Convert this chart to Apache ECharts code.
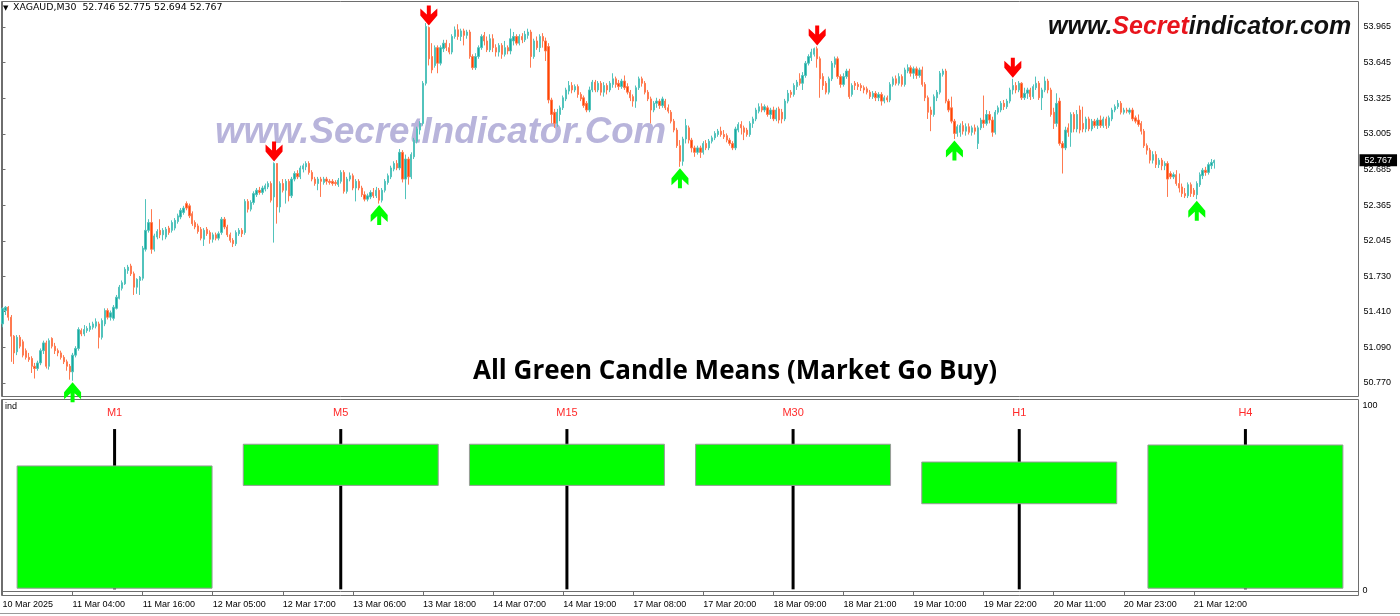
<!DOCTYPE html>
<html>
<head>
<meta charset="utf-8">
<script src="https://cdn.jsdelivr.net/npm/echarts@6/dist/echarts.min.js"></script>
<style>
html,body{margin:0;padding:0;background:#fff;}
#chart{width:1400px;height:616px;}
</style>
</head>
<body>
<div id="chart"></div>
<script>
// ---- data: XAGAUD M30 candles [open, close, low, high], bar index = position ----
const candles = [
[51.30,51.44,51.27,51.45],[51.42,51.45,51.38,51.46],[51.45,51.36,51.33,51.46],[51.36,51.19,50.96,51.38],[51.19,51.04,50.94,51.20],
[51.05,51.18,51.02,51.20],[51.18,51.10,51.08,51.20],[51.14,51.02,51.00,51.16],[51.06,51.00,50.98,51.08],[51.00,50.98,50.96,51.04],
[50.99,50.92,50.86,51.01],[50.92,50.90,50.81,50.95],[50.90,50.95,50.88,50.97],[50.95,51.06,50.93,51.08],[51.06,51.13,51.03,51.15],
[51.13,50.92,50.90,51.15],[50.92,51.15,50.89,51.17],[51.17,51.10,51.08,51.18],[51.10,51.06,51.03,51.13],[51.06,51.04,51.01,51.08],
[51.04,51.00,50.98,51.06],[51.00,50.96,50.94,51.02],[50.96,50.92,50.88,50.98],[50.92,50.87,50.80,50.94],[50.87,51.02,50.79,51.04],
[51.02,51.08,51.00,51.10],[51.08,51.25,51.06,51.27],[51.24,51.21,51.19,51.26],[51.21,51.25,51.19,51.29],[51.24,51.26,51.22,51.28],
[51.25,51.28,51.23,51.31],[51.27,51.30,51.25,51.32],[51.28,51.32,51.26,51.35],[51.30,51.18,51.08,51.32],[51.18,51.33,51.16,51.35],
[51.30,51.42,51.28,51.44],[51.42,51.36,51.34,51.44],[51.36,51.40,51.33,51.42],[51.35,51.45,51.33,51.47],[51.44,51.54,51.43,51.56],
[51.53,51.63,51.52,51.65],[51.62,51.67,51.60,51.69],[51.66,51.79,51.65,51.81],[51.78,51.81,51.75,51.83],[51.82,51.75,51.73,51.84],
[51.75,51.63,51.56,51.77],[51.63,51.70,51.57,51.71],[51.69,51.72,51.56,51.73],[51.71,51.98,51.69,52.00],[51.97,52.14,51.95,52.42],
[52.14,52.21,52.12,52.24],[52.21,51.97,51.93,52.33],[51.97,52.09,51.95,52.11],[52.08,52.13,52.06,52.15],[52.14,52.10,52.07,52.24],
[52.10,52.14,52.05,52.16],[52.08,52.15,52.06,52.17],[52.16,52.12,52.10,52.18],[52.14,52.21,52.12,52.23],[52.16,52.23,52.14,52.25],
[52.22,52.27,52.20,52.29],[52.26,52.32,52.24,52.34],[52.30,52.34,52.28,52.36],[52.38,52.34,52.32,52.40],[52.36,52.27,52.25,52.38],
[52.29,52.20,52.18,52.31],[52.21,52.17,52.15,52.23],[52.18,52.13,52.11,52.20],[52.15,52.07,52.05,52.17],[52.06,52.14,52.00,52.16],
[52.15,52.11,52.09,52.17],[52.12,52.06,52.02,52.14],[52.06,52.10,52.03,52.12],[52.10,52.07,52.05,52.12],[52.07,52.11,52.05,52.13],
[52.12,52.24,52.10,52.26],[52.24,52.17,52.15,52.26],[52.17,52.10,52.08,52.19],[52.10,52.05,52.03,52.12],[52.05,52.02,51.99,52.07],
[52.02,52.12,52.00,52.14],[52.11,52.14,52.09,52.16],[52.14,52.11,52.08,52.16],[52.12,52.40,52.10,52.42],[52.40,52.33,52.30,52.42],
[52.33,52.39,52.31,52.41],[52.39,52.47,52.37,52.49],[52.46,52.50,52.44,52.52],[52.50,52.48,52.46,52.53],[52.48,52.52,52.46,52.54],
[52.51,52.54,52.49,52.56],[52.53,52.56,52.51,52.58],[52.56,52.41,52.39,52.58],[52.44,52.74,52.03,52.75],[52.74,52.35,52.20,52.74],
[52.35,52.56,52.30,52.58],[52.56,52.50,52.48,52.60],[52.50,52.58,52.38,52.60],[52.58,52.45,52.40,52.60],[52.45,52.60,52.43,52.62],
[52.60,52.65,52.58,52.67],[52.65,52.62,52.60,52.68],[52.62,52.70,52.60,52.72],[52.69,52.72,52.66,52.74],[52.71,52.74,52.68,52.76],
[52.74,52.66,52.64,52.76],[52.66,52.60,52.58,52.68],[52.60,52.56,52.54,52.62],[52.56,52.60,52.50,52.62],[52.60,52.58,52.44,52.62],
[52.57,52.60,52.55,52.62],[52.60,52.58,52.55,52.62],[52.58,52.57,52.55,52.60],[52.58,52.56,52.54,52.60],[52.57,52.56,52.54,52.59],
[52.55,52.59,52.53,52.61],[52.58,52.66,52.56,52.68],[52.66,52.49,52.47,52.68],[52.49,52.60,52.47,52.62],[52.60,52.63,52.58,52.66],
[52.63,52.52,52.50,52.65],[52.52,52.58,52.40,52.60],[52.58,52.52,52.50,52.60],[52.52,52.46,52.44,52.54],[52.46,52.42,52.40,52.49],
[52.42,52.45,52.40,52.47],[52.44,52.48,52.42,52.50],[52.48,52.45,52.43,52.52],[52.45,52.50,52.43,52.53],[52.50,52.41,52.38,52.52],
[52.41,52.50,52.39,52.52],[52.50,52.58,52.48,52.60],[52.57,52.63,52.55,52.65],[52.62,52.70,52.60,52.72],[52.69,52.74,52.67,52.76],
[52.74,52.70,52.68,52.77],[52.70,52.84,52.68,52.87],[52.84,52.60,52.57,52.86],[52.60,52.78,52.42,52.82],[52.78,52.62,52.55,52.80],
[52.62,52.82,52.60,52.84],[52.80,52.95,52.78,52.97],[52.94,53.05,52.92,53.07],[53.04,53.10,53.00,53.12],[53.10,53.46,53.08,53.48],
[53.46,53.97,53.44,54.00],[53.96,53.68,53.62,53.97],[53.70,53.58,53.55,53.82],[53.62,53.78,53.60,53.80],[53.78,53.64,53.55,53.80],
[53.64,53.78,53.62,53.80],[53.77,53.82,53.74,53.85],[53.82,53.78,53.75,53.85],[53.78,53.74,53.72,53.82],[53.74,53.88,53.72,53.90],
[53.88,53.94,53.86,53.97],[53.94,53.88,53.85,53.99],[53.88,53.93,53.84,53.95],[53.93,53.89,53.80,53.95],[53.89,53.92,53.86,53.94],
[53.92,53.70,53.68,53.94],[53.70,53.60,53.58,53.72],[53.60,53.70,53.58,53.73],[53.70,53.78,53.68,53.80],[53.78,53.88,53.76,53.90],
[53.89,53.84,53.80,53.92],[53.84,53.76,53.74,53.88],[53.76,53.86,53.74,53.90],[53.86,53.78,53.74,53.90],[53.78,53.74,53.70,53.81],
[53.74,53.80,53.70,53.82],[53.80,53.72,53.68,53.82],[53.72,53.78,53.70,53.84],[53.78,53.75,53.72,53.80],[53.75,53.86,53.72,53.95],
[53.84,53.88,53.80,53.92],[53.88,53.82,53.80,53.90],[53.82,53.88,53.80,53.90],[53.88,53.85,53.82,53.91],[53.85,53.90,53.83,53.93],
[53.89,53.92,53.86,53.95],[53.92,53.70,53.60,53.94],[53.70,53.84,53.68,53.86],[53.84,53.78,53.76,53.88],[53.78,53.88,53.74,53.90],
[53.88,53.84,53.78,53.91],[53.84,53.75,53.66,53.87],[53.79,53.31,53.28,53.82],[53.31,53.18,53.10,53.33],[53.20,53.10,53.06,53.23],
[53.10,53.20,53.07,53.23],[53.18,53.24,53.12,53.26],[53.24,53.33,53.22,53.35],[53.32,53.40,53.30,53.42],[53.39,53.44,53.36,53.48],
[53.44,53.40,53.37,53.47],[53.40,53.43,53.38,53.45],[53.43,53.36,53.33,53.45],[53.36,53.32,53.30,53.38],[53.33,53.26,53.24,53.35],
[53.28,53.22,53.20,53.30],[53.22,53.40,53.20,53.43],[53.40,53.47,53.38,53.49],[53.47,53.40,53.38,53.49],[53.40,53.46,53.38,53.48],
[53.46,53.38,53.35,53.48],[53.38,53.44,53.34,53.47],[53.44,53.40,53.36,53.46],[53.40,53.46,53.38,53.48],[53.45,53.50,53.42,53.55],
[53.50,53.45,53.42,53.52],[53.46,53.43,53.40,53.49],[53.43,53.48,53.41,53.50],[53.48,53.42,53.40,53.53],[53.43,53.38,53.36,53.46],
[53.38,53.33,53.30,53.40],[53.34,53.30,53.25,53.36],[53.30,53.42,53.24,53.44],[53.42,53.50,53.40,53.52],[53.50,53.46,53.43,53.52],
[53.46,53.38,53.36,53.48],[53.38,53.32,53.30,53.40],[53.32,53.22,53.10,53.34],[53.22,53.28,53.20,53.30],[53.28,53.30,53.24,53.33],
[53.30,53.26,53.23,53.32],[53.26,53.32,53.24,53.34],[53.30,53.24,53.22,53.32],[53.24,53.21,53.19,53.27],[53.20,53.12,53.10,53.22],
[53.12,53.04,53.02,53.14],[53.04,52.90,52.88,53.06],[52.90,52.76,52.71,52.95],[52.76,52.96,52.72,52.98],[52.96,53.08,52.92,53.14],
[53.06,52.95,52.92,53.08],[52.95,52.88,52.84,52.97],[52.88,52.84,52.80,52.90],[52.84,52.88,52.82,52.90],[52.88,52.84,52.79,52.90],
[52.84,52.92,52.82,52.94],[52.92,52.88,52.86,52.95],[52.88,52.94,52.86,52.96],[52.94,52.97,52.92,52.99],[52.97,53.01,52.95,53.03],
[53.00,53.03,52.98,53.05],[53.03,53.00,52.98,53.07],[53.00,52.98,52.96,53.04],[52.99,52.95,52.93,53.01],[52.95,52.92,52.90,52.97],
[52.92,52.88,52.86,52.94],[52.88,53.05,52.86,53.07],[53.04,53.09,53.02,53.11],[53.09,53.06,53.00,53.12],[53.06,53.02,52.95,53.08],
[53.04,53.00,52.98,53.06],[53.00,53.10,52.98,53.12],[53.10,53.14,53.06,53.16],[53.14,53.22,53.12,53.24],[53.21,53.25,53.19,53.28],
[53.25,53.22,53.20,53.28],[53.22,53.25,53.20,53.27],[53.24,53.18,53.16,53.26],[53.18,53.22,53.14,53.24],[53.22,53.14,53.12,53.25],
[53.14,53.22,53.12,53.24],[53.23,53.13,53.10,53.25],[53.20,53.14,53.10,53.23],[53.14,53.30,53.12,53.32],[53.30,53.37,53.28,53.40],
[53.38,53.36,53.33,53.40],[53.36,53.44,53.34,53.46],[53.43,53.47,53.40,53.49],[53.50,53.46,53.44,53.55],[53.46,53.53,53.40,53.56],
[53.53,53.64,53.51,53.66],[53.64,53.70,53.62,53.72],[53.69,53.74,53.66,53.77],[53.72,53.77,53.70,53.78],[53.77,53.68,53.60,53.79],
[53.68,53.50,53.33,53.70],[53.52,53.44,53.40,53.55],[53.46,53.38,53.36,53.48],[53.38,53.50,53.36,53.52],[53.50,53.64,53.48,53.66],
[53.63,53.68,53.60,53.70],[53.68,53.52,53.50,53.70],[53.52,53.45,53.42,53.54],[53.45,53.52,53.43,53.55],[53.52,53.57,53.50,53.59],
[53.57,53.34,53.32,53.59],[53.36,53.44,53.34,53.46],[53.46,53.44,53.40,53.48],[53.45,53.43,53.40,53.47],[53.44,53.42,53.39,53.46],
[53.42,53.40,53.37,53.44],[53.41,53.38,53.36,53.43],[53.38,53.34,53.32,53.40],[53.34,53.37,53.32,53.39],[53.37,53.33,53.30,53.39],
[53.33,53.36,53.30,53.38],[53.36,53.30,53.26,53.38],[53.30,53.33,53.28,53.35],[53.33,53.31,53.29,53.35],[53.31,53.45,53.29,53.47],
[53.45,53.50,53.43,53.52],[53.50,53.46,53.44,53.53],[53.46,53.52,53.44,53.55],[53.52,53.45,53.43,53.54],[53.45,53.58,53.43,53.60],
[53.57,53.60,53.55,53.63],[53.60,53.55,53.52,53.62],[53.55,53.59,53.50,53.61],[53.59,53.53,53.50,53.61],[53.53,53.58,53.51,53.60],
[53.58,53.45,53.43,53.61],[53.45,53.33,53.30,53.47],[53.33,53.20,53.14,53.35],[53.22,53.18,53.03,53.25],[53.18,53.34,53.16,53.36],
[53.33,53.38,53.30,53.40],[53.38,53.55,53.36,53.57],[53.54,53.57,53.52,53.59],[53.57,53.30,53.28,53.59],[53.30,53.22,53.20,53.32],
[53.24,53.12,53.10,53.34],[53.12,53.01,52.96,53.14],[53.01,53.07,52.98,53.09],[53.02,53.08,52.98,53.10],[53.08,53.03,53.00,53.12],
[53.03,53.07,52.99,53.10],[53.07,53.02,53.00,53.10],[53.02,53.06,52.99,53.08],[53.06,53.03,53.00,53.09],[52.92,53.06,52.87,53.08],
[53.06,53.13,53.04,53.15],[53.13,53.10,53.06,53.35],[53.10,53.18,53.08,53.22],[53.18,53.13,53.10,53.21],[53.13,53.02,52.98,53.16],
[53.02,53.20,53.00,53.22],[53.20,53.24,53.18,53.26],[53.22,53.28,53.20,53.30],[53.28,53.25,53.22,53.31],[53.25,53.30,53.23,53.32],
[53.30,53.40,53.28,53.42],[53.40,53.44,53.36,53.50],[53.44,53.40,53.37,53.47],[53.40,53.46,53.38,53.48],[53.46,53.33,53.31,53.47],
[53.33,53.37,53.31,53.42],[53.37,53.40,53.32,53.42],[53.40,53.34,53.31,53.42],[53.34,53.43,53.32,53.45],[53.42,53.46,53.40,53.52],
[53.46,53.33,53.31,53.48],[53.33,53.40,53.22,53.42],[53.40,53.48,53.38,53.52],[53.48,53.40,53.37,53.50],[53.40,53.18,53.16,53.42],
[53.20,53.10,53.05,53.24],[53.10,53.28,53.07,53.37],[53.30,52.92,52.90,53.33],[52.92,52.88,52.65,52.94],[52.88,53.04,52.86,53.07],
[53.06,53.02,52.98,53.10],[53.02,53.18,52.89,53.20],[53.18,53.05,53.02,53.20],[53.05,53.18,53.02,53.22],[53.22,53.04,53.01,53.26],
[53.10,53.05,53.02,53.25],[53.05,53.14,53.02,53.16],[53.14,53.05,53.03,53.16],[53.05,53.12,53.03,53.14],[53.12,53.08,53.06,53.14],
[53.08,53.13,53.05,53.15],[53.13,53.08,53.06,53.17],[53.08,53.14,53.06,53.16],[53.14,53.08,53.05,53.16],[53.08,53.15,53.06,53.17],
[53.14,53.22,53.12,53.24],[53.22,53.25,53.20,53.27],[53.25,53.28,53.23,53.31],[53.28,53.20,53.18,53.30],[53.20,53.22,53.18,53.24],
[53.22,53.21,53.19,53.24],[53.20,53.22,53.18,53.24],[53.22,53.14,53.12,53.24],[53.15,53.12,53.10,53.17],[53.13,53.09,53.07,53.18],
[53.10,53.03,53.00,53.12],[53.03,52.90,52.88,53.05],[52.90,52.86,52.82,52.92],[52.86,52.77,52.74,52.88],[52.77,52.82,52.74,52.85],
[52.82,52.73,52.70,52.85],[52.73,52.77,52.70,52.79],[52.77,52.72,52.68,52.79],[52.72,52.74,52.68,52.76],[52.74,52.60,52.44,52.76],
[52.65,52.62,52.60,52.67],[52.62,52.64,52.60,52.66],[52.64,52.56,52.54,52.68],[52.56,52.52,52.48,52.65],[52.53,52.47,52.44,52.56],
[52.47,52.45,52.43,52.52],[52.45,52.55,52.43,52.57],[52.55,52.47,52.44,52.57],[52.50,52.46,52.44,52.52],[52.46,52.56,52.42,52.58],
[52.55,52.64,52.53,52.66],[52.63,52.68,52.60,52.70],[52.68,52.66,52.63,52.71],[52.66,52.73,52.64,52.75],[52.72,52.75,52.69,52.78],
[52.746,52.767,52.694,52.775]
];
const priceTicks = [53.965, 53.645, 53.325, 53.005, 52.685, 52.365, 52.045, 51.730, 51.410, 51.090, 50.770];
const tickBars   = [0, 24, 48, 72, 96, 120, 144, 168, 192, 216, 240, 264, 288, 312, 336, 360, 384, 408];
const tickLabels = ['10 Mar 2025','11 Mar 04:00','11 Mar 16:00','12 Mar 05:00','12 Mar 17:00','13 Mar 06:00',
  '13 Mar 18:00','14 Mar 07:00','14 Mar 19:00','17 Mar 08:00','17 Mar 20:00','18 Mar 09:00',
  '18 Mar 21:00','19 Mar 10:00','19 Mar 22:00','20 Mar 11:00','20 Mar 23:00','21 Mar 12:00'];
const buySignals  = [24, 129, 232, 326, 409];
const sellSignals = [93, 146, 279, 346];
const tfNames   = ['M1','M5','M15','M30','H1','H4'];
// indicator candles per timeframe [open, close, low, high] on 0..100 scale
const tfCandles = [[1.5,67.5,0.9,87.4],[57.0,79.2,0.9,87.4],[57.0,79.2,0.9,87.4],[57.0,79.2,0.9,87.4],[47.1,69.6,0.9,87.4],[1.5,78.8,0.9,87.4]];
const indLevels = [0, 100];
const symbolName = 'XAGAUD,M30';

// ---- build ----
const last = candles[candles.length - 1];
const f3 = v => v.toFixed(3);
const candleData = candles.map((c, i) => [i, c[0], c[1], c[2], c[3]]);
const upData = buySignals.map(i => [i, candles[i][2]]);
const downData = sellSignals.map(i => [i, candles[i][3]]);
const upArrow = 'path://M6.5,20 L10.5,20 L10.5,11 L17,17 L17,10 L8.5,0 L0,10 L0,17 L6.5,11 Z';
const downArrow = 'path://M6.5,0 L10.5,0 L10.5,9 L17,3 L17,10 L8.5,20 L0,10 L0,3 L6.5,9 Z';
const FONT = '"Liberation Sans", Arial, sans-serif';
const axisCol = '#6e6e6e';

const chart = echarts.init(document.getElementById('chart'), null, {renderer: 'canvas'});
chart.setOption({
  animation: false,
  backgroundColor: '#ffffff',
  grid: [
    {left: 1.5, right: 41.5, top: 1.5, height: 395, show: true, borderColor: axisCol, borderWidth: 1, outerBoundsMode: 'none'},
    {left: 1.5, right: 41.5, top: 399.5, height: 196, show: true, borderColor: axisCol, borderWidth: 1, outerBoundsMode: 'none'}
  ],
  xAxis: [
    {type: 'value', gridIndex: 0, min: -0.342, max: 464.38, show: false},
    {type: 'value', gridIndex: 1, min: -0.342, max: 464.38,
      axisLine: {show: true, lineStyle: {color: axisCol}},
      axisTick: {show: true, length: 4, customValues: tickBars, lineStyle: {color: axisCol}},
      axisLabel: {customValues: tickBars, formatter: v => tickLabels[tickBars.indexOf(v)] || '',
        align: 'left', margin: 5, color: '#000', fontSize: 9, fontFamily: FONT},
      splitLine: {show: false}},
    {type: 'category', gridIndex: 1, data: tfNames, position: 'top',
      axisLine: {show: false}, axisTick: {show: false},
      axisLabel: {inside: true, margin: 8, color: '#ff2b2b', fontSize: 11, fontFamily: FONT},
      splitLine: {show: false}}
  ],
  yAxis: [
    {type: 'value', gridIndex: 0, position: 'right', min: 50.6487, max: 54.194,
      axisLine: {show: true, lineStyle: {color: axisCol}},
      axisTick: {show: true, length: 3, customValues: priceTicks, lineStyle: {color: axisCol}},
      axisLabel: {customValues: priceTicks, formatter: v => f3(v), margin: 5, color: '#000', fontSize: 9, fontFamily: FONT},
      splitLine: {show: false}},
    {type: 'value', gridIndex: 1, position: 'right', min: -2.43, max: 103.35,
      axisLine: {show: true, lineStyle: {color: axisCol}},
      axisTick: {show: false},
      axisLabel: {customValues: indLevels, formatter: v => String(v), margin: 4, color: '#000', fontSize: 9, fontFamily: FONT},
      splitLine: {show: false}}
  ],
  series: [
    {
      type: 'candlestick', xAxisIndex: 0, yAxisIndex: 0, data: candleData,
      encode: {x: 0, y: [1, 2, 3, 4]},
      barWidth: 1.8,
      itemStyle: {color: '#17a9a0', color0: '#ff4500', borderColor: '#52c3bc', borderColor0: '#ff7a50', borderWidth: 1},
      markLine: {
        silent: true, symbol: ['none', 'none'], animation: false,
        lineStyle: {color: 'rgba(0,0,0,0)', width: 1, type: 'solid'},
        data: [{yAxis: last[1]}],
        label: {show: true, position: 'end', formatter: () => f3(last[1]), distance: 1,
          color: '#ffffff', backgroundColor: '#000000', padding: [2, 5, 1, 5], fontSize: 9, fontFamily: FONT}
      }
    },
    {
      type: 'scatter', xAxisIndex: 0, yAxisIndex: 0, data: upData, z: 5,
      symbol: upArrow, symbolSize: [17, 20], symbolOffset: [0, 11.5],
      itemStyle: {color: '#00ff00', opacity: 1}, silent: true
    },
    {
      type: 'scatter', xAxisIndex: 0, yAxisIndex: 0, data: downData, z: 5,
      symbol: downArrow, symbolSize: [17, 20], symbolOffset: [0, -11],
      itemStyle: {color: '#ff0000', opacity: 1}, silent: true
    },
    {
      type: 'custom', xAxisIndex: 2, yAxisIndex: 1,
      data: tfCandles.map((c, i) => [i, c[0], c[1], c[2], c[3]]),
      encode: {x: 0, y: [1, 2, 3, 4]},
      renderItem: function (params, api) {
        const i = api.value(0);
        const pO = api.coord([i, api.value(1)]);
        const pC = api.coord([i, api.value(2)]);
        const pL = api.coord([i, api.value(3)]);
        const pH = api.coord([i, api.value(4)]);
        const w = api.size([1, 0])[0] * 0.862;
        return {type: 'group', children: [
          {type: 'line', shape: {x1: pH[0], y1: pH[1], x2: pL[0], y2: pL[1]}, style: {stroke: '#000', lineWidth: 3}},
          {type: 'rect', shape: {x: pO[0] - w / 2, y: Math.min(pO[1], pC[1]), width: w, height: Math.abs(pO[1] - pC[1])},
            style: {fill: '#00ff00', stroke: '#9a9a9a', lineWidth: 1}}
        ]};
      }
    }
  ],
  graphic: [
    {type: 'text', x: 215, y: 132.5, z: 1, silent: true,
      style: {text: 'www.SecretIndicator.Com', fill: '#b8b4db', verticalAlign: 'middle',
        font: 'italic bold 36.7px "Liberation Sans", Arial, sans-serif'}},
    {type: 'text', x: 3, y: 8, z: 20, silent: true,
      style: {text: '\u25BC', fill: '#000', verticalAlign: 'middle', font: '7px "DejaVu Sans", sans-serif'}},
    {type: 'text', x: 13, y: 8, z: 20, silent: true,
      style: {text: symbolName + '  ' + [last[0], last[3], last[2], last[1]].map(f3).join(' '),
        fill: '#000', verticalAlign: 'middle', font: '9.4px "DejaVu Sans", sans-serif'}},
    {type: 'text', x: 1048, y: 27, z: 20, silent: true,
      style: {text: '{a|www.}{r|Secret}{a|indicator.com}', verticalAlign: 'middle',
        font: 'italic bold 25px "Liberation Sans", Arial, sans-serif',
        rich: {
          a: {fill: '#111', font: 'italic bold 25px "Liberation Sans", Arial, sans-serif'},
          r: {fill: '#e8141c', font: 'italic bold 25px "Liberation Sans", Arial, sans-serif'}
        }}},
    {type: 'text', x: 473, y: 372, z: 20, silent: true,
      style: {text: 'All Green Candle Means (Market Go Buy)', fill: '#000', verticalAlign: 'middle',
        font: 'bold 26px "Open Sans", sans-serif'}},
    {type: 'text', x: 5, y: 407, z: 20, silent: true,
      style: {text: 'ind', fill: '#000', verticalAlign: 'middle', font: '9px "Liberation Sans", Arial, sans-serif'}},
    {type: 'rect', z: 20, silent: true, shape: {x: 0, y: 613, width: 1400, height: 1}, style: {fill: '#9a9a9a'}}
  ]
});
</script>
</body>
</html>
